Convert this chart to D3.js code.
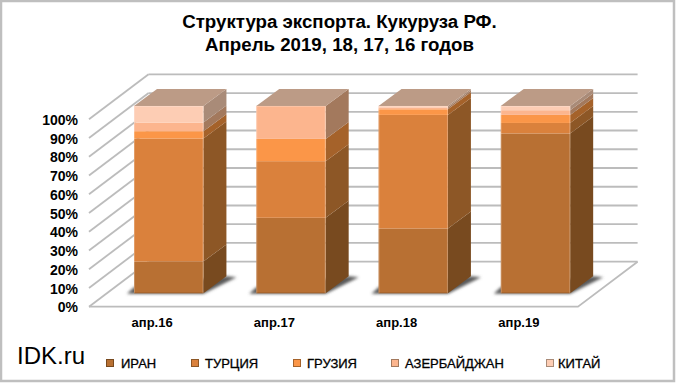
<!DOCTYPE html>
<html>
<head>
<meta charset="utf-8">
<script src="https://cdn.jsdelivr.net/npm/d3@7"></script>
<style>
  body { margin: 0; background: #fff; }
  text { font-family: "Liberation Sans", Arial, sans-serif; fill: #000; }
</style>
</head>
<body>
<div id="root"></div>
<script>
// values, % of export
const categories = ["апр.16", "апр.17", "апр.18", "апр.19"];
const iran = [17, 40.3, 34.6, 85.3];
const turkey = [65.6, 30.2, 60.6, 5.6];
const georgia = [3.9, 11.9, 3, 4.3];
const azerbaijan = [4.6, 17.6, 1, 2.5];
const china = [8.9, 0, 0.8, 2.3];

const seriesNames = ["ИРАН", "ТУРЦИЯ", "ГРУЗИЯ", "АЗЕРБАЙДЖАН", "КИТАЙ"];
const seriesValues = [iran, turkey, georgia, azerbaijan, china];
const frontColors = ["#b87033", "#da813c", "#fb9648", "#fcb58e", "#fdcdb4"];
const sideColors = ["#784a1f", "#8d5726", "#a5622a", "#a3795d", "#a98b78"];
const topColor = "#bc9b86";
const yTicks = [0, 10, 20, 30, 40, 50, 60, 70, 80, 90, 100];
const legendX = [106, 191, 293, 391, 546];
const legendTextX = [121, 205, 307, 405, 558];

const svg = d3.select("#root").append("svg")
  .attr("width", 680)
  .attr("height", 385);

// outer frame
svg.append("rect")
  .attr("x", 1).attr("y", 1)
  .attr("width", 673).attr("height", 380)
  .attr("fill", "#fff")
  .attr("stroke", "#bfbfbf")
  .attr("stroke-width", 2.5);

// title
svg.selectAll(".title")
  .data(["Структура экспорта. Кукуруза РФ.", "Апрель 2019, 18, 17, 16 годов"])
  .join("text")
  .attr("x", 339.5)
  .attr("y", (d, i) => 28 + i * 23)
  .attr("text-anchor", "middle")
  .style("font-size", "18.7px")
  .style("font-weight", "bold")
  .text(d => d);

const x = d3.scaleBand().domain(categories).range([89, 578]);
const y = d3.scaleLinear().domain([0, 100]).range([306.7, 119.3]);

// depth of the chart box and of the bars
const wall = { dx: 59.6, dy: -45 };
const barShift = { dx: 18.6, dy: -13.4 };
const depth = { dx: 23, dy: -17 };
const barWidth = 69.4;

// back wall and side wall grid
const grid = svg.append("g")
  .attr("fill", "none")
  .attr("stroke", "#bcbcbc")
  .attr("stroke-width", 1.8);

grid.selectAll(".back")
  .data(yTicks)
  .join("line")
  .attr("x1", 89 + wall.dx)
  .attr("x2", 578 + wall.dx)
  .attr("y1", d => y(d) + wall.dy)
  .attr("y2", d => y(d) + wall.dy);

grid.selectAll(".side")
  .data(yTicks)
  .join("line")
  .attr("x1", 89)
  .attr("x2", 89 + wall.dx)
  .attr("y1", d => y(d))
  .attr("y2", d => y(d) + wall.dy);

grid.append("path")
  .attr("d", `M89,${y(0)}H578L${578 + wall.dx},${y(0) + wall.dy}`);

// soft shadow on the floor
const blur = svg.append("defs").append("filter")
  .attr("id", "blur")
  .attr("x", "-30%").attr("width", "160%")
  .attr("y", "-30%").attr("height", "160%");
blur.append("feGaussianBlur").attr("stdDeviation", 1.6);

const poly = pts => "M" + pts.map(p => p.join(",")).join("L") + "Z";

const rows = categories.map((c, i) => {
  const row = { category: c };
  seriesNames.forEach((s, j) => { row[s] = seriesValues[j][i]; });
  return row;
});
const stacked = d3.stack().keys(seriesNames)(rows);

const barLeft = c => x(c) + x.bandwidth() / 2 - barWidth / 2 + barShift.dx;

svg.append("g")
  .selectAll("path")
  .data(categories)
  .join("path")
  .attr("fill", "#5a5a5a")
  .attr("filter", "url(#blur)")
  .attr("d", c => {
    const l = barLeft(c), b = y(0) + barShift.dy;
    return poly([
      [l - 7, b + 0.5],
      [l + barWidth, b + 0.5],
      [l + barWidth + depth.dx + 10, b + depth.dy + 1],
      [l + barWidth + depth.dx, b + depth.dy],
      [l, b - 6]
    ]);
  });

// bars
const bars = svg.append("g");

categories.forEach((c, i) => {
  const l = barLeft(c);
  const r = l + barWidth;
  const g = bars.append("g");

  stacked.forEach((layer, j) => {
    const y0 = y(layer[i][0]) + barShift.dy;
    const y1 = y(layer[i][1]) + barShift.dy;
    if (y0 - y1 <= 0) return;
    g.append("path")
      .attr("fill", sideColors[j])
      .attr("d", poly([[r, y0], [r + depth.dx, y0 + depth.dy], [r + depth.dx, y1 + depth.dy], [r, y1]]));
    g.append("rect")
      .attr("x", l)
      .attr("y", y1)
      .attr("width", barWidth)
      .attr("height", y0 - y1)
      .attr("fill", frontColors[j]);
  });

  const t = y(100) + barShift.dy;
  const b = y(0) + barShift.dy;
  g.append("path")
    .attr("fill", topColor)
    .attr("d", poly([[l, t], [l + depth.dx, t + depth.dy], [r + depth.dx, t + depth.dy], [r, t]]));

  // bevel of the front face
  g.append("path")
    .attr("fill", "none")
    .attr("stroke", "#fff")
    .attr("stroke-opacity", 0.22)
    .attr("d", `M${l + 0.5},${b}V${t + 0.5}H${r - 0.5}V${b}`);
  g.append("path")
    .attr("fill", "none")
    .attr("stroke", "#000")
    .attr("stroke-opacity", 0.12)
    .attr("d", `M${l},${b - 0.5}H${r}`);
});

// axes
const yAxis = svg.append("g")
  .attr("transform", "translate(78,0)")
  .call(d3.axisLeft(y).tickValues(yTicks).tickSize(0).tickPadding(0).tickFormat(d => d + "%"));
yAxis.select(".domain").remove();
yAxis.selectAll("text")
  .attr("dy", "0.36em")
  .style("font-size", "14px")
  .style("font-weight", "bold")
  .style("font-family", '"Liberation Sans", Arial, sans-serif');

const xAxis = svg.append("g")
  .attr("transform", "translate(2,318)")
  .call(d3.axisBottom(x).tickSize(0).tickPadding(0));
xAxis.select(".domain").remove();
xAxis.selectAll("text")
  .attr("dy", "0.71em")
  .style("font-size", "13px")
  .style("font-weight", "bold")
  .style("font-family", '"Liberation Sans", Arial, sans-serif');

// legend
const legend = svg.append("g")
  .selectAll("g")
  .data(seriesNames)
  .join("g");

legend.append("rect")
  .attr("x", (d, i) => legendX[i] + 0.5)
  .attr("y", 359.5)
  .attr("width", 7).attr("height", 7)
  .attr("fill", (d, i) => frontColors[i])
  .attr("stroke", (d, i) => sideColors[i])
  .attr("stroke-width", 1);

legend.append("text")
  .attr("x", (d, i) => legendTextX[i])
  .attr("y", 368)
  .style("font-size", "13px")
  .style("stroke", "#000")
  .style("stroke-width", 0.3)
  .text(d => d);

// watermark
svg.append("text")
  .attr("x", 17)
  .attr("y", 364)
  .style("font-size", "24px")
  .text("IDK.ru");
</script>
</body>
</html>
